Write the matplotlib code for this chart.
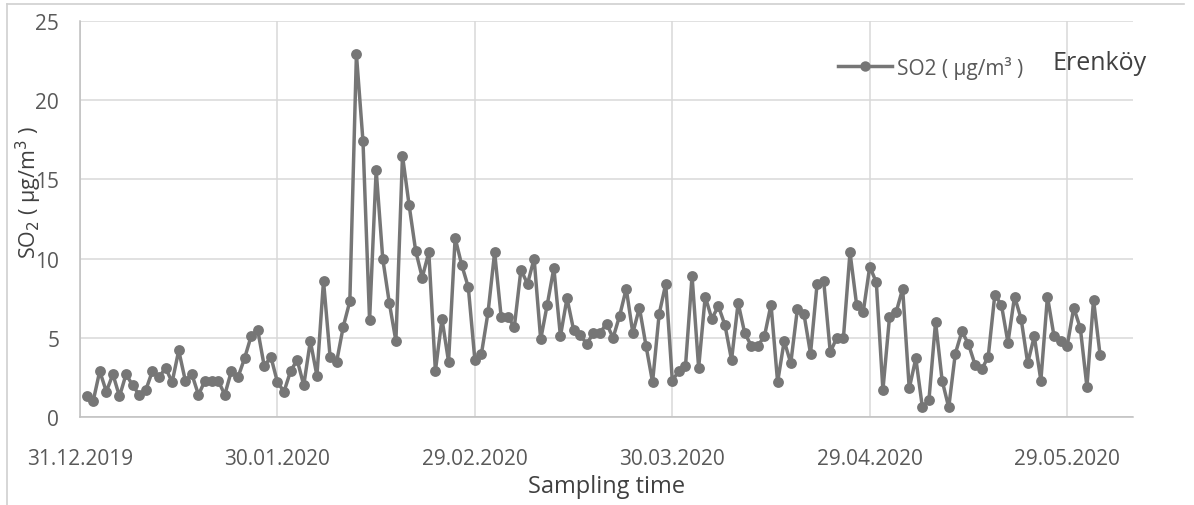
import numpy as np
import pandas as pd
import matplotlib.pyplot as plt
from matplotlib.lines import Line2D

plt.rcParams['font.family'] = ['Open Sans', 'DejaVu Sans']

# daily SO2 concentrations, Erenköy station, 01.01.2020 - 03.06.2020
inicio = "2020-01-01"
so2_jan = [1.3, 1.0, 2.9, 1.6, 2.7, 1.3, 2.7, 2.0, 1.4, 1.7,
           2.9, 2.5, 3.1, 2.2, 4.2, 2.3, 2.7, 1.4, 2.3, 2.3,
           2.3, 1.4, 2.9, 2.5, 3.7, 5.1, 5.5, 3.2, 3.8, 2.2, 1.6]
so2_fev = [2.9, 3.6, 2.0, 4.8, 2.6, 8.6, 3.8, 3.5, 5.7, 7.3,
           22.9, 17.4, 6.1, 15.6, 10.0, 7.2, 4.8, 16.5, 13.4, 10.5,
           8.8, 10.4, 2.9, 6.2, 3.5, 11.3, 9.6, 8.2, 3.6]
so2_mar = [4.0, 6.6, 10.4, 6.3, 6.3, 5.7, 9.3, 8.4, 10.0, 4.9,
           7.1, 9.4, 5.1, 7.5, 5.5, 5.2, 4.6, 5.3, 5.3, 5.9,
           5.0, 6.4, 8.1, 5.3, 6.9, 4.5, 2.2, 6.5, 8.4, 2.3, 2.9]
so2_abr = [3.2, 8.9, 3.1, 7.6, 6.2, 7.0, 5.8, 3.6, 7.2, 5.3,
           4.5, 4.5, 5.1, 7.1, 2.2, 4.8, 3.4, 6.8, 6.5, 4.0,
           8.4, 8.6, 4.1, 5.0, 5.0, 10.4, 7.1, 6.6, 9.5, 8.5]
so2_mai = [1.7, 6.3, 6.6, 8.1, 1.8, 3.7, 0.6, 1.1, 6.0, 2.3,
           0.6, 4.0, 5.4, 4.6, 3.3, 3.0, 3.8, 7.7, 7.1, 4.7,
           7.6, 6.2, 3.4, 5.1, 2.3, 7.6, 5.1, 4.8, 4.5, 6.9, 5.6]
so2_jun = [1.9, 7.4, 3.9]

so2 = so2_jan + so2_fev + so2_mar + so2_abr + so2_mai + so2_jun
datas = pd.date_range(inicio, periods=len(so2), freq="D")

ticks = pd.date_range("2019-12-31", periods=6, freq="30D")
tick_labels = [d.strftime("%d.%m.%Y") for d in ticks]

cinza = "#767676"
texto = "#595959"

fig = plt.figure(figsize=(11.94, 5.06), dpi=100)
ax = fig.add_axes([80 / 1194, 1 - 418 / 506, (1133 - 80) / 1194, (418 - 22) / 506])

ax.plot(datas, so2, color=cinza, lw=2.5, marker="o", ms=7.8,
        markeredgewidth=0, zorder=3)

ax.set_xlim(pd.Timestamp("2019-12-31"), pd.Timestamp("2019-12-31") + pd.Timedelta(days=160))
ax.set_ylim(0, 25)
ax.set_yticks(np.arange(0, 26, 5))
ax.set_xticks(ticks)
ax.set_xticklabels(tick_labels)

ax.grid(True, color="#d9d9d9", lw=1.1)
ax.set_axisbelow(True)
for s in ["top", "right"]:
    ax.spines[s].set_visible(False)
for s in ["left", "bottom"]:
    ax.spines[s].set_color("#bfbfbf")
    ax.spines[s].set_linewidth(1.1)

ax.tick_params(axis="both", length=0, labelsize=15, labelcolor=texto)
ax.tick_params(axis="x", pad=22)
ax.tick_params(axis="y", pad=15)

ax.set_xlabel("Sampling time", fontsize=17, color="#404040", labelpad=4)
fig.text(29 / 1194, 1 - 193 / 506, "SO$_2$ ( µg/m$^3$ )", rotation=90,
         ha="center", va="center", fontsize=15.5, color="#404040")

# legend entry and station name
leg = ax.legend([Line2D([], [], color=cinza, lw=2.5, marker="o", ms=7.5,
                        markeredgewidth=0)],
                ["SO2 ( µg/m³ )"], loc="center left",
                bbox_to_anchor=(838 / 1194, 1 - 68 / 506),
                bbox_transform=fig.transFigure, frameon=False,
                borderpad=0, borderaxespad=0,
                fontsize=15, handlelength=2.6, handletextpad=0.25,
                labelcolor=texto)
fig.text(1100 / 1194, 1 - 64 / 506, "Erenköy", ha="center", va="center",
         fontsize=18, color="#404040")

# outer frame lines
fig.add_artist(Line2D([7 / 1194, 7 / 1194], [0, 1 - 5 / 506], color="#d0d0d0",
                      lw=1.2, transform=fig.transFigure))
fig.add_artist(Line2D([7 / 1194, 1184 / 1194], [1 - 5 / 506, 1 - 5 / 506],
                      color="#d0d0d0", lw=1.2, transform=fig.transFigure))

fig.savefig("out.png", dpi=100)
